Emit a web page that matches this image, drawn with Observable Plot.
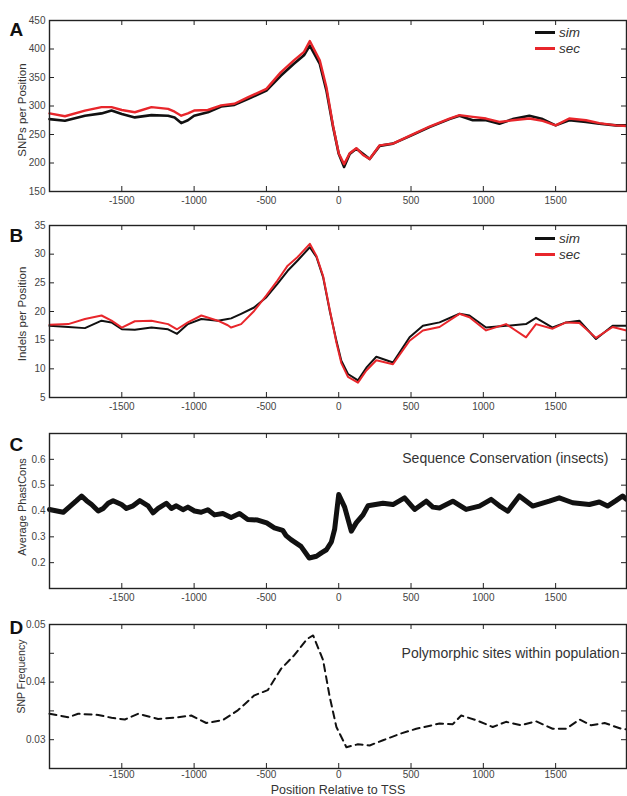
<!DOCTYPE html>
<html>
<head>
<meta charset="utf-8">
<script src="https://cdn.jsdelivr.net/npm/d3@7"></script>
<script src="https://cdn.jsdelivr.net/npm/@observablehq/plot@0.6"></script>
<style>
  body { margin: 0; background: #fff; }
  #chart { position: relative; width: 627px; height: 796px; font-family: "Liberation Sans", Arial, sans-serif; }
  #chart svg { position: absolute; left: 0; }
  .legend { position: absolute; font-size: 13.5px; font-style: italic; color: #333; }
  .legend .row { position: absolute; left: 0; height: 16px; white-space: nowrap; }
  .legend .swatch { position: absolute; left: 0; width: 20px; height: 3px; }
  .legend .lab { position: absolute; left: 24px; line-height: 16px; }
</style>
</head>
<body>
<div id="chart"></div>
<script>
// ---------- data ----------
const xTicks = [-1500, -1000, -500, 0, 500, 1000, 1500];

// Panel A: SNPs per position
const aPos = [-2000, -1893, -1755, -1640, -1571, -1500, -1410, -1295, -1180, -1135, -1089, -1043, -1000, -905, -813, -721, -629, -500, -401, -310, -240, -200, -131, -85, -39, 0, 37, 76, 122, 168, 214, 283, 375, 500, 628, 766, 835, 927, 1019, 1111, 1203, 1318, 1410, 1500, 1594, 1710, 1802, 1917, 1990];
const aSim = [277, 274, 283, 287, 292, 286, 280, 284, 283, 280, 270, 275, 283, 289, 299, 302, 312, 327, 353, 374, 389, 406, 374, 327, 263, 216, 193, 216, 225, 216, 207, 230, 234, 248, 263, 277, 283, 275, 275, 269, 277, 283, 277, 266, 275, 272, 269, 266, 266];
const aSec = [287, 282, 292, 298, 298, 293, 289, 298, 295, 290, 283, 287, 292, 293, 301, 304, 315, 330, 359, 380, 395, 414, 380, 333, 265, 217, 198, 217, 226, 214, 207, 231, 234, 249, 264, 278, 284, 281, 278, 272, 275, 278, 274, 266, 278, 275, 270, 266, 265];
const aTicks = [150, 200, 250, 300, 350, 400, 450];

// Panel B: Indels per position
const bPos = [-2000, -1870, -1755, -1640, -1571, -1500, -1410, -1295, -1180, -1118, -1043, -950, -836, -767, -744, -675, -585, -500, -424, -353, -284, -200, -154, -108, -62, -16, 18, 64, 133, 191, 260, 375, 490, 582, 697, 835, 904, 1019, 1157, 1295, 1364, 1479, 1572, 1664, 1779, 1894, 1990];
const bSim = [17.5, 17.3, 17.1, 18.4, 18.1, 16.9, 16.8, 17.2, 16.9, 16.1, 17.8, 18.7, 18.4, 18.7, 18.8, 19.6, 20.7, 22.5, 24.8, 27.1, 28.9, 31.2, 29.5, 26.0, 20.1, 14.9, 11.4, 9.1, 8.0, 10.2, 12.1, 11.1, 15.5, 17.5, 18.1, 19.6, 19.3, 17.2, 17.5, 17.8, 18.9, 17.2, 18.1, 18.4, 15.2, 17.5, 17.5];
const bSec = [17.7, 17.8, 18.7, 19.3, 18.4, 17.2, 18.3, 18.4, 17.8, 16.9, 18.1, 19.3, 18.4, 17.6, 17.2, 17.8, 20.1, 22.8, 25.4, 28.0, 29.5, 31.8, 29.7, 26.2, 20.3, 14.6, 11.0, 8.6, 7.6, 9.7, 11.5, 10.8, 14.9, 16.7, 17.3, 19.6, 19.0, 16.7, 17.8, 15.5, 17.8, 17.0, 18.1, 18.0, 15.4, 17.3, 16.7];
const bTicks = [5, 10, 15, 20, 25, 30, 35];

// Panel C: average PhastCons
const cPos = [-2000, -1905, -1813, -1778, -1744, -1709, -1663, -1629, -1594, -1560, -1502, -1468, -1422, -1376, -1318, -1284, -1249, -1192, -1157, -1123, -1077, -1043, -997, -951, -905, -859, -801, -744, -686, -629, -560, -498, -445, -387, -364, -330, -261, -204, -154, -120, -85, -51, -28, 0, 41, 87, 122, 168, 202, 306, 375, 455, 525, 605, 651, 697, 789, 881, 973, 1054, 1111, 1169, 1249, 1341, 1456, 1525, 1618, 1733, 1802, 1859, 1917, 1963, 1990];
const cVal = [0.406, 0.395, 0.440, 0.458, 0.440, 0.425, 0.400, 0.410, 0.430, 0.440, 0.425, 0.410, 0.420, 0.440, 0.420, 0.393, 0.410, 0.430, 0.410, 0.420, 0.405, 0.415, 0.400, 0.395, 0.405, 0.385, 0.390, 0.375, 0.390, 0.367, 0.365, 0.354, 0.335, 0.325, 0.305, 0.289, 0.263, 0.218, 0.225, 0.238, 0.250, 0.280, 0.330, 0.464, 0.415, 0.322, 0.355, 0.385, 0.420, 0.430, 0.425, 0.451, 0.406, 0.438, 0.415, 0.412, 0.438, 0.406, 0.419, 0.445, 0.420, 0.399, 0.458, 0.419, 0.438, 0.451, 0.432, 0.425, 0.435, 0.419, 0.440, 0.458, 0.445];
const cTicks = [0.2, 0.3, 0.4, 0.5, 0.6];

// Panel D: SNP frequency
const dPos = [-2000, -1870, -1802, -1663, -1571, -1479, -1387, -1249, -1111, -1020, -916, -801, -698, -583, -491, -399, -310, -218, -177, -108, -62, -16, 53, 133, 214, 306, 421, 536, 697, 789, 847, 950, 1065, 1157, 1261, 1364, 1479, 1572, 1666, 1746, 1839, 1953, 1990];
const dVal = [0.0345, 0.0339, 0.0345, 0.0343, 0.0338, 0.0335, 0.0345, 0.0336, 0.0339, 0.0342, 0.0329, 0.0334, 0.0351, 0.0377, 0.0386, 0.0423, 0.0446, 0.0475, 0.0481, 0.0438, 0.0374, 0.0322, 0.0287, 0.0292, 0.0290, 0.0299, 0.0310, 0.0319, 0.0328, 0.0327, 0.0342, 0.0334, 0.0322, 0.0331, 0.0325, 0.0332, 0.0319, 0.0319, 0.0335, 0.0325, 0.0329, 0.0319, 0.0318];
const dTicks = [0.025, 0.03, 0.035, 0.04, 0.045, 0.05];
const dTickLabels = [0.03, 0.04, 0.05];

const RED = "#e8262b";
const BLACK = "#111";
const FONT = "'Liberation Sans', Arial, Helvetica, sans-serif";
const W = 627, ML = 49, MR = 1;
const fmt = d => String(d);

const zip = (xs, ys) => xs.map((x, i) => ({x, y: ys[i]}));

function panel(o) {
  const innerH = o.height - o.mt - o.mb;
  const innerW = W - ML - MR;
  const tk = {stroke: "#222", strokeWidth: 1};
  const marks = [
    ...o.lines,
    Plot.tickX(xTicks, {x: d => d, insetTop: innerH - 5, ...tk}),
    Plot.tickX(xTicks, {x: d => d, insetBottom: innerH - 5, ...tk}),
    Plot.tickY(o.yTicks, {y: d => d, insetRight: innerW - 5, ...tk}),
    Plot.tickY(o.yTicks, {y: d => d, insetLeft: innerW - 5, ...tk}),
    Plot.frame({stroke: "#222", strokeWidth: 1.4}),
    Plot.text([o.letter], {frameAnchor: "top-left", text: d => d, dx: -40, dy: o.letterDy, textAnchor: "start", fontSize: 19, fontWeight: "bold", fill: "#111"}),
    Plot.text([o.ylabel], {frameAnchor: "left", text: d => d, rotate: -90, dx: -27.5, dy: o.ylabelDy, fontSize: o.ylabelSize, fill: "#333", textAnchor: "middle"}),
    ...(o.extra || [])
  ];
  const svg = Plot.plot({
    width: W, height: o.height,
    marginLeft: ML, marginRight: MR, marginTop: o.mt, marginBottom: o.mb,
    style: {background: "transparent", fontFamily: FONT, fontSize: "10px", color: "#444", overflow: "visible"},
    x: {domain: [-2000, 1990], ticks: xTicks, tickFormat: fmt, tickSize: 0, tickPadding: o.xPad ?? 5, label: null},
    y: {domain: o.yDomain, ticks: o.yLabels, tickFormat: fmt, tickSize: 0, tickPadding: 4, label: null},
    marks
  });
  svg.style.top = o.top + "px";
  document.getElementById("chart").appendChild(svg);
}

function legend(top) {
  const d = document.createElement("div");
  d.className = "legend";
  d.style.left = "535px";
  d.style.top = top + "px";
  d.innerHTML = `
    <div class="row" style="top:0px"><div class="swatch" style="background:${BLACK};top:6px"></div><span class="lab">sim</span></div>
    <div class="row" style="top:16px"><div class="swatch" style="background:${RED};top:6px"></div><span class="lab">sec</span></div>`;
  document.getElementById("chart").appendChild(d);
}

// Panel A
panel({
  top: 0, height: 215, mt: 20, mb: 24,
  yDomain: [150, 450], yTicks: aTicks, yLabels: aTicks,
  letter: "A", letterDy: 1.5, ylabel: "SNPs per Position", ylabelDy: 4, ylabelSize: 11.5,
  lines: [
    Plot.line(zip(aPos, aSim), {x: "x", y: "y", stroke: BLACK, strokeWidth: 2.6}),
    Plot.line(zip(aPos, aSec), {x: "x", y: "y", stroke: RED, strokeWidth: 2.4})
  ]
});
legend(25);

// Panel B
panel({
  top: 205, height: 215, mt: 20, mb: 23,
  yDomain: [5, 35], yTicks: bTicks, yLabels: bTicks,
  letter: "B", letterDy: 3, ylabel: "Indels per Position", ylabelDy: 2.5, ylabelSize: 11.5,
  lines: [
    Plot.line(zip(bPos, bSim), {x: "x", y: "y", stroke: BLACK, strokeWidth: 2}),
    Plot.line(zip(bPos, bSec), {x: "x", y: "y", stroke: RED, strokeWidth: 2})
  ]
});
legend(231);

// Panel C
panel({
  top: 413, height: 200, mt: 20, mb: 25,
  yDomain: [0.1, 0.7], yTicks: cTicks, yLabels: cTicks,
  letter: "C", letterDy: 4, ylabel: "Average PhastCons", ylabelDy: -4, ylabelSize: 11,
  lines: [
    Plot.line(zip(cPos, cVal), {x: "x", y: "y", stroke: BLACK, strokeWidth: 5, strokeLinejoin: "round"})
  ],
  extra: [
    Plot.text(["Sequence Conservation (insects)"], {frameAnchor: "top-right", text: d => d, dx: -18, dy: 20, textAnchor: "end", fontSize: 14, fill: "#333"})
  ]
});

// Panel D
panel({
  top: 604, height: 192, mt: 20, mb: 28, xPad: 2.5,
  yDomain: [0.025, 0.05], yTicks: dTicks, yLabels: dTickLabels,
  letter: "D", letterDy: -4, ylabel: "SNP Frequency", ylabelDy: -20, ylabelSize: 10.5,
  lines: [
    Plot.line(zip(dPos, dVal), {x: "x", y: "y", stroke: BLACK, strokeWidth: 2, strokeDasharray: "7,5"})
  ],
  extra: [
    Plot.text(["Polymorphic sites within population"], {frameAnchor: "top-right", text: d => d, dx: -7, dy: 24, textAnchor: "end", fontSize: 14, fill: "#333"}),
    Plot.text(["Position Relative to TSS"], {frameAnchor: "bottom", text: d => d, dy: 25, lineAnchor: "bottom", fontSize: 12.5, fill: "#333"})
  ]
});
</script>
</body>
</html>
